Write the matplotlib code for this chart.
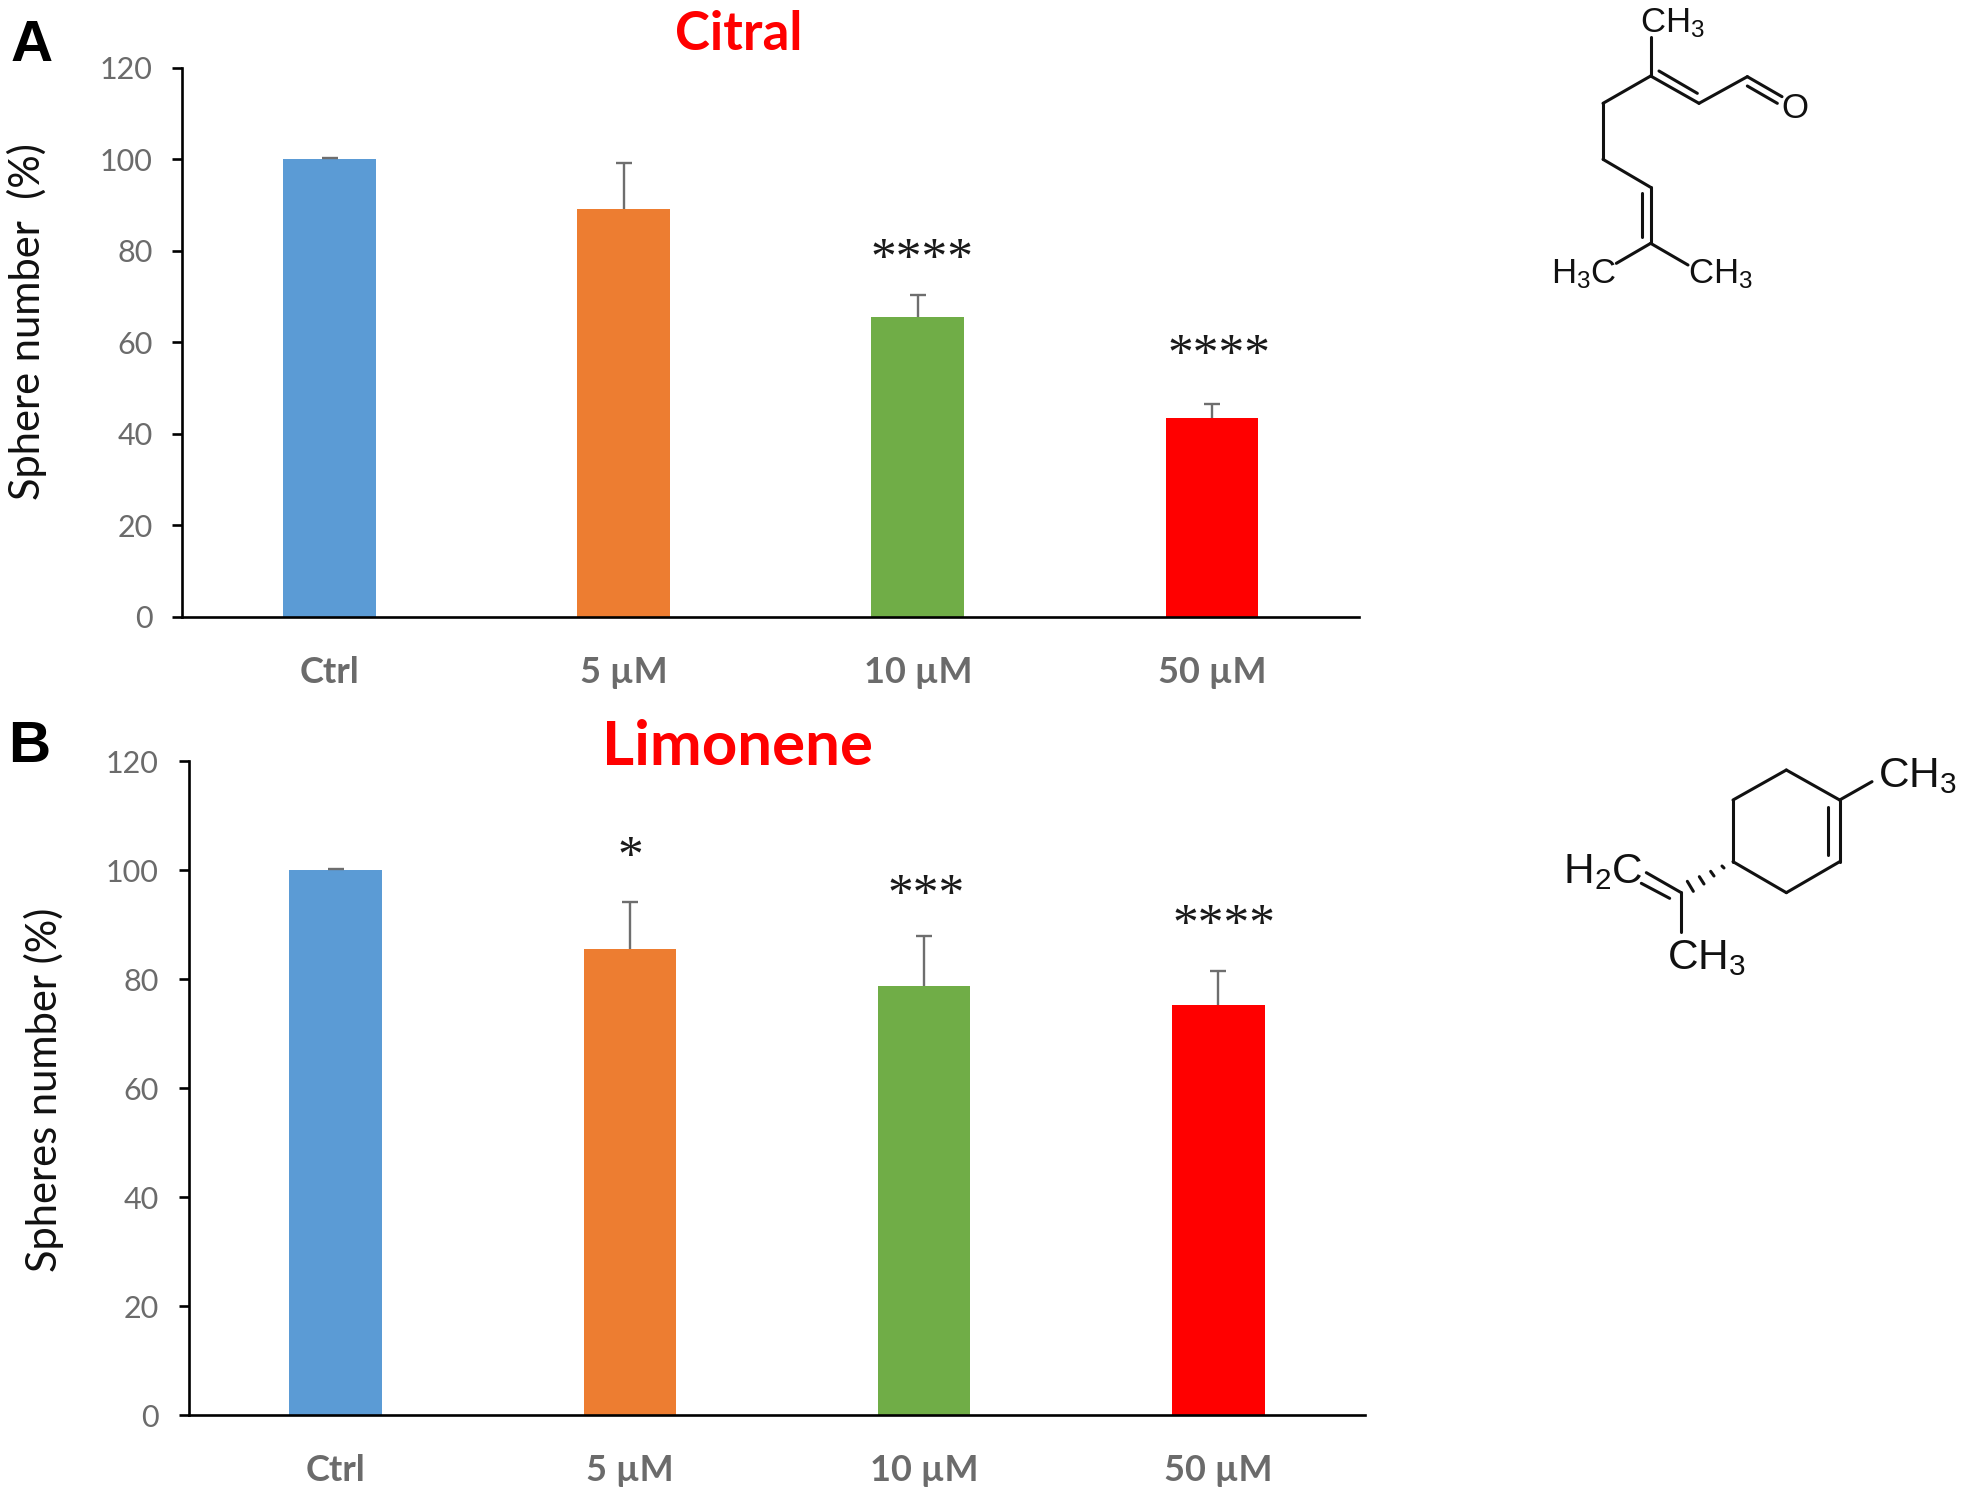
import matplotlib

matplotlib.use("Agg")

import matplotlib.pyplot as plt

W, H = 1965, 1498
DPI = 100

categories = ["Ctrl", "5 µM", "10 µM", "50 µM"]
colors = ["#5B9BD5", "#ED7D31", "#70AD47", "#FF0000"]
yticks = [0, 20, 40, 60, 80, 100, 120]

citral_values = [100, 89, 65.5, 43.5]
citral_errors = [0.2, 10.2, 4.7, 3.0]
citral_stars = ["", "", "****", "****"]
citral_star_y = [0, 0, 78.0, 57.0]
citral_star_dx = [0, 0, 0.013, 0.023]

limonene_values = [100, 85.5, 78.7, 75.3]
limonene_errors = [0.2, 8.7, 9.3, 6.2]
limonene_stars = ["", "*", "***", "****"]
limonene_star_y = [0, 102.2, 95.2, 89.7]
limonene_star_dx = [0, 0, 0.006, 0.021]

# structures, in pixels of the 3x crop (x0, y0, x1, y1)
CITRAL_ORIGIN = (1498, 0)
citral_bonds = [
    (458, 110, 458, 228), (458, 228, 603, 310), (483, 213, 598, 280),
    (603, 310, 748, 230), (748, 230, 852, 290), (748, 258, 838, 310),
    (458, 228, 315, 310), (315, 310, 315, 478), (315, 478, 458, 562),
    (458, 562, 458, 730), (432, 578, 432, 712), (458, 730, 355, 790),
    (458, 730, 570, 795),
]
citral_labels = [
    (425, 97, r"$\mathrm{CH_3}$"), (849, 353, "O"),
    (160, 850, r"$\mathrm{H_3C}$"), (570, 850, r"$\mathrm{CH_3}$"),
]

LIMONENE_ORIGIN = (1498, 730)
limonene_bonds = [
    (865, 120, 1025, 210), (1025, 210, 1025, 395), (1025, 395, 865, 488),
    (865, 488, 705, 395), (705, 395, 705, 210), (705, 210, 865, 120),
    (990, 232, 990, 375), (1025, 210, 1122, 155),
    (548, 487, 548, 605), (548, 487, 445, 428), (515, 505, 430, 460),
]
limonene_hash = [
    (672, 408, 678, 414), (638, 424, 648, 438),
    (604, 440, 618, 462), (568, 454, 586, 484),
]
limonene_labels = [
    (1140, 170, r"$\mathrm{CH_3}$"), (194, 458, r"$\mathrm{H_2C}$"),
    (508, 718, r"$\mathrm{CH_3}$"),
]


def setup_style():
    plt.rcParams.update(
        {
            "font.family": "Lato",
            "mathtext.fontset": "custom",
            "mathtext.rm": "Liberation Sans",
            "axes.linewidth": 1.9,
        }
    )


def panel_axes(fig, left, right, top, bottom):
    return fig.add_axes([left / W, 1 - bottom / H, (right - left) / W, (bottom - top) / H])


def draw_bars(ax, values, errors, stars, star_y, star_dx, ylabel, label_x, label_y):
    x = [i + 0.5 for i in range(len(values))]
    tops = [v + e for v, e in zip(values, errors)]
    ax.bar(x, values, width=0.315, color=colors, zorder=2)
    # upper half only, so stem and cap instead of errorbar
    ax.vlines(x, values, tops, color="#6e6e6e", lw=1.7, zorder=1)
    ax.plot(x, tops, ls="none", marker="_", ms=11.5, mew=1.7, color="#6e6e6e", zorder=3)
    for xi, text, y, dx in zip(x, stars, star_y, star_dx):
        if text:
            ax.text(xi + dx, y, text, ha="center", va="center", fontsize=37,
                    family="Liberation Serif", color="#1a1a1a")

    ax.set_xlim(0, 4)
    ax.set_ylim(0, 120)
    ax.set_xticks(x)
    ax.set_xticklabels(categories, fontsize=26, fontweight="bold", color="#6b6b6b")
    ax.set_yticks(yticks)
    ax.tick_params(axis="x", length=0, pad=28)
    ax.tick_params(axis="y", length=7.5, width=1.9, pad=14, labelsize=22, labelcolor="#6b6b6b")
    ax.spines["top"].set_visible(False)
    ax.spines["right"].set_visible(False)
    ax.set_ylabel(ylabel, fontsize=30, color="#111111")
    ax.yaxis.set_label_coords(label_x, label_y)


def draw_structure(overlay, origin, bonds, labels, fontsize):
    ox, oy = origin
    for x0, y0, x1, y1 in bonds:
        overlay.plot([ox + x0 / 3, ox + x1 / 3], [oy + y0 / 3, oy + y1 / 3],
                     color="#111111", lw=2.2, solid_capstyle="round")
    for x, y, text in labels:
        overlay.text(ox + x / 3, oy + y / 3, text, ha="left", va="baseline",
                     fontsize=fontsize, family="Liberation Sans", color="#111111")


def main():
    setup_style()
    fig = plt.figure(figsize=(W / DPI, H / DPI), dpi=DPI)

    ax_a = panel_axes(fig, 182.5, 1359, 67.5, 616.7)
    draw_bars(ax_a, citral_values, citral_errors, citral_stars, citral_star_y, citral_star_dx,
              "Sphere number  (%)", -0.115, 0.537)
    ax_b = panel_axes(fig, 188.6, 1365.3, 761, 1415.4)
    draw_bars(ax_b, limonene_values, limonene_errors, limonene_stars, limonene_star_y,
              limonene_star_dx, "Spheres number (%)", -0.106, 0.497)

    overlay = fig.add_axes([0, 0, 1, 1], facecolor="none")
    overlay.set_xlim(0, W)
    overlay.set_ylim(H, 0)
    overlay.axis("off")

    overlay.text(32, 46, "A", ha="center", va="center", fontsize=42, fontweight="bold",
                 family="Liberation Sans", color="black")
    overlay.text(29, 747, "B", ha="center", va="center", fontsize=42, fontweight="bold",
                 family="Liberation Sans", color="black")
    overlay.text(739, 35, "Citral", ha="center", va="center", fontsize=38, fontweight="bold",
                 color="#FF0000")
    overlay.text(738, 747, "Limonene", ha="center", va="center", fontsize=44.5, fontweight="bold",
                 color="#FF0000")

    draw_structure(overlay, CITRAL_ORIGIN, citral_bonds, citral_labels, 25)
    draw_structure(overlay, LIMONENE_ORIGIN, limonene_bonds, limonene_labels, 30.5)
    draw_structure(overlay, LIMONENE_ORIGIN, limonene_hash, [], 30.5)

    fig.savefig("out.png", dpi=DPI)


if __name__ == "__main__":
    main()
